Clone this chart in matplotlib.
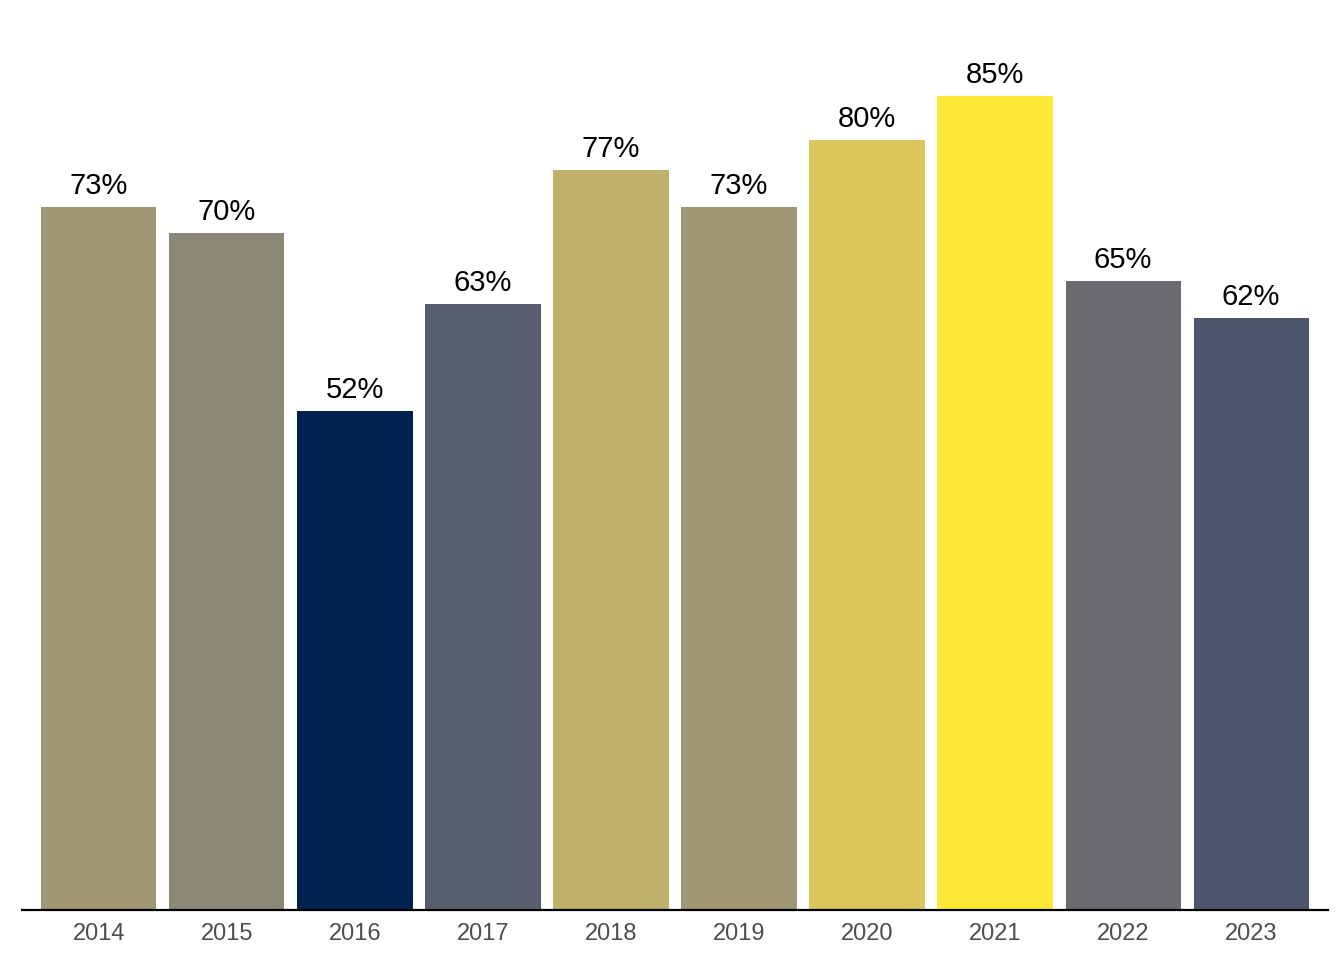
import matplotlib
matplotlib.use("Agg")
import matplotlib.pyplot as plt
from matplotlib import cm, colors

plt.rcParams['font.family'] = ['Liberation Sans', 'DejaVu Sans']

years = ["2014", "2015", "2016", "2017", "2018", "2019", "2020", "2021", "2022", "2023"]
# underlying shares (%), labels show them rounded
values = [73.1, 70.4, 51.9, 63.0, 77.0, 73.1, 80.1, 84.7, 65.4, 61.6]

fig = plt.figure(figsize=(13.44, 9.6), dpi=100)
# axes placed by pixels: left 22, right 1328, bottom line at y=910
ax = fig.add_axes([22 / 1344, 50 / 960, 1306 / 1344, 860 / 960])

norm = colors.Normalize(vmin=min(values), vmax=max(values))
bar_colors = [cm.cividis(norm(v)) for v in values]

x = list(range(len(years)))
ax.bar(x, values, width=0.9, color=bar_colors)
for xi, v in zip(x, values):
    ax.annotate(f"{round(v)}%", (xi, v), xytext=(0, 5), textcoords="offset points",
                ha="center", va="bottom", fontsize=21, color="black")

ax.set_xlim(-0.6, len(years) - 0.4)
ax.set_ylim(0, 89.45)
ax.set_xticks(x)
ax.set_xticklabels(years, fontsize=17, color="#4d4d4d")
ax.set_yticks([])
ax.tick_params(axis="x", length=0, pad=9)
for side in ["top", "right", "left"]:
    ax.spines[side].set_visible(False)
ax.spines["bottom"].set_linewidth(1.6)
ax.spines["bottom"].set_color("black")

fig.savefig("out.png", dpi=100)
